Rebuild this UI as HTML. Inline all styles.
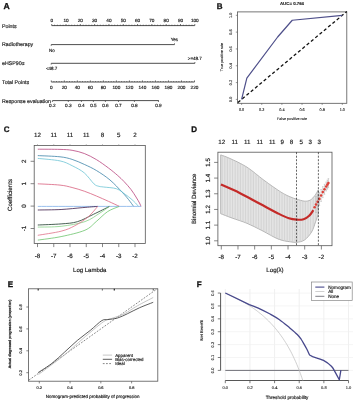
<!DOCTYPE html>
<html><head><meta charset="utf-8"><style>
html,body{margin:0;padding:0;background:#fff;}
svg{display:block;will-change:transform;}
text{font-family:"Liberation Sans",sans-serif;text-rendering:geometricPrecision;}
</style></head><body>
<svg width="354" height="400" viewBox="0 0 354 400">
<rect width="354" height="400" fill="#fff"/>
<text x="3.6" y="9.4" font-size="8.6" text-anchor="start" font-weight="bold" fill="#111" stroke="#111" stroke-width="0.3" >A</text>
<text x="2" y="27.8" font-size="5.25" text-anchor="start" font-weight="normal" fill="#1a1a1a" stroke="#1a1a1a" stroke-width="0.16" >Points</text>
<text x="2" y="46.1" font-size="5.25" text-anchor="start" font-weight="normal" fill="#1a1a1a" stroke="#1a1a1a" stroke-width="0.16" >Radiotherapy</text>
<text x="2" y="64.8" font-size="5.25" text-anchor="start" font-weight="normal" fill="#1a1a1a" stroke="#1a1a1a" stroke-width="0.16" >eHSP90α</text>
<text x="2" y="84.4" font-size="5.25" text-anchor="start" font-weight="normal" fill="#1a1a1a" stroke="#1a1a1a" stroke-width="0.16" >Total Points</text>
<text x="2" y="103.1" font-size="5.25" text-anchor="start" font-weight="normal" fill="#1a1a1a" stroke="#1a1a1a" stroke-width="0.16" >Response evaluation</text>
<line x1="51.7" y1="25.6" x2="194.8" y2="25.6" stroke="#3a3a3a" stroke-width="0.9" />
<line x1="51.7" y1="25.6" x2="51.7" y2="24" stroke="#3a3a3a" stroke-width="0.7" />
<line x1="54.56" y1="25.6" x2="54.56" y2="24.7" stroke="#3a3a3a" stroke-width="0.7" />
<line x1="57.42" y1="25.6" x2="57.42" y2="24.7" stroke="#3a3a3a" stroke-width="0.7" />
<line x1="60.29" y1="25.6" x2="60.29" y2="24.7" stroke="#3a3a3a" stroke-width="0.7" />
<line x1="63.15" y1="25.6" x2="63.15" y2="24.7" stroke="#3a3a3a" stroke-width="0.7" />
<line x1="66.01" y1="25.6" x2="66.01" y2="24" stroke="#3a3a3a" stroke-width="0.7" />
<line x1="68.87" y1="25.6" x2="68.87" y2="24.7" stroke="#3a3a3a" stroke-width="0.7" />
<line x1="71.73" y1="25.6" x2="71.73" y2="24.7" stroke="#3a3a3a" stroke-width="0.7" />
<line x1="74.6" y1="25.6" x2="74.6" y2="24.7" stroke="#3a3a3a" stroke-width="0.7" />
<line x1="77.46" y1="25.6" x2="77.46" y2="24.7" stroke="#3a3a3a" stroke-width="0.7" />
<line x1="80.32" y1="25.6" x2="80.32" y2="24" stroke="#3a3a3a" stroke-width="0.7" />
<line x1="83.18" y1="25.6" x2="83.18" y2="24.7" stroke="#3a3a3a" stroke-width="0.7" />
<line x1="86.04" y1="25.6" x2="86.04" y2="24.7" stroke="#3a3a3a" stroke-width="0.7" />
<line x1="88.91" y1="25.6" x2="88.91" y2="24.7" stroke="#3a3a3a" stroke-width="0.7" />
<line x1="91.77" y1="25.6" x2="91.77" y2="24.7" stroke="#3a3a3a" stroke-width="0.7" />
<line x1="94.63" y1="25.6" x2="94.63" y2="24" stroke="#3a3a3a" stroke-width="0.7" />
<line x1="97.49" y1="25.6" x2="97.49" y2="24.7" stroke="#3a3a3a" stroke-width="0.7" />
<line x1="100.35" y1="25.6" x2="100.35" y2="24.7" stroke="#3a3a3a" stroke-width="0.7" />
<line x1="103.22" y1="25.6" x2="103.22" y2="24.7" stroke="#3a3a3a" stroke-width="0.7" />
<line x1="106.08" y1="25.6" x2="106.08" y2="24.7" stroke="#3a3a3a" stroke-width="0.7" />
<line x1="108.94" y1="25.6" x2="108.94" y2="24" stroke="#3a3a3a" stroke-width="0.7" />
<line x1="111.8" y1="25.6" x2="111.8" y2="24.7" stroke="#3a3a3a" stroke-width="0.7" />
<line x1="114.66" y1="25.6" x2="114.66" y2="24.7" stroke="#3a3a3a" stroke-width="0.7" />
<line x1="117.53" y1="25.6" x2="117.53" y2="24.7" stroke="#3a3a3a" stroke-width="0.7" />
<line x1="120.39" y1="25.6" x2="120.39" y2="24.7" stroke="#3a3a3a" stroke-width="0.7" />
<line x1="123.25" y1="25.6" x2="123.25" y2="24" stroke="#3a3a3a" stroke-width="0.7" />
<line x1="126.11" y1="25.6" x2="126.11" y2="24.7" stroke="#3a3a3a" stroke-width="0.7" />
<line x1="128.97" y1="25.6" x2="128.97" y2="24.7" stroke="#3a3a3a" stroke-width="0.7" />
<line x1="131.84" y1="25.6" x2="131.84" y2="24.7" stroke="#3a3a3a" stroke-width="0.7" />
<line x1="134.7" y1="25.6" x2="134.7" y2="24.7" stroke="#3a3a3a" stroke-width="0.7" />
<line x1="137.56" y1="25.6" x2="137.56" y2="24" stroke="#3a3a3a" stroke-width="0.7" />
<line x1="140.42" y1="25.6" x2="140.42" y2="24.7" stroke="#3a3a3a" stroke-width="0.7" />
<line x1="143.28" y1="25.6" x2="143.28" y2="24.7" stroke="#3a3a3a" stroke-width="0.7" />
<line x1="146.15" y1="25.6" x2="146.15" y2="24.7" stroke="#3a3a3a" stroke-width="0.7" />
<line x1="149.01" y1="25.6" x2="149.01" y2="24.7" stroke="#3a3a3a" stroke-width="0.7" />
<line x1="151.87" y1="25.6" x2="151.87" y2="24" stroke="#3a3a3a" stroke-width="0.7" />
<line x1="154.73" y1="25.6" x2="154.73" y2="24.7" stroke="#3a3a3a" stroke-width="0.7" />
<line x1="157.59" y1="25.6" x2="157.59" y2="24.7" stroke="#3a3a3a" stroke-width="0.7" />
<line x1="160.46" y1="25.6" x2="160.46" y2="24.7" stroke="#3a3a3a" stroke-width="0.7" />
<line x1="163.32" y1="25.6" x2="163.32" y2="24.7" stroke="#3a3a3a" stroke-width="0.7" />
<line x1="166.18" y1="25.6" x2="166.18" y2="24" stroke="#3a3a3a" stroke-width="0.7" />
<line x1="169.04" y1="25.6" x2="169.04" y2="24.7" stroke="#3a3a3a" stroke-width="0.7" />
<line x1="171.9" y1="25.6" x2="171.9" y2="24.7" stroke="#3a3a3a" stroke-width="0.7" />
<line x1="174.77" y1="25.6" x2="174.77" y2="24.7" stroke="#3a3a3a" stroke-width="0.7" />
<line x1="177.63" y1="25.6" x2="177.63" y2="24.7" stroke="#3a3a3a" stroke-width="0.7" />
<line x1="180.49" y1="25.6" x2="180.49" y2="24" stroke="#3a3a3a" stroke-width="0.7" />
<line x1="183.35" y1="25.6" x2="183.35" y2="24.7" stroke="#3a3a3a" stroke-width="0.7" />
<line x1="186.21" y1="25.6" x2="186.21" y2="24.7" stroke="#3a3a3a" stroke-width="0.7" />
<line x1="189.08" y1="25.6" x2="189.08" y2="24.7" stroke="#3a3a3a" stroke-width="0.7" />
<line x1="191.94" y1="25.6" x2="191.94" y2="24.7" stroke="#3a3a3a" stroke-width="0.7" />
<line x1="194.8" y1="25.6" x2="194.8" y2="24" stroke="#3a3a3a" stroke-width="0.7" />
<text x="51.7" y="22.35" font-size="4.7" text-anchor="middle" font-weight="normal" fill="#1a1a1a" stroke="#1a1a1a" stroke-width="0.16" >0</text>
<text x="66.01" y="22.35" font-size="4.7" text-anchor="middle" font-weight="normal" fill="#1a1a1a" stroke="#1a1a1a" stroke-width="0.16" >10</text>
<text x="80.32" y="22.35" font-size="4.7" text-anchor="middle" font-weight="normal" fill="#1a1a1a" stroke="#1a1a1a" stroke-width="0.16" >20</text>
<text x="94.63" y="22.35" font-size="4.7" text-anchor="middle" font-weight="normal" fill="#1a1a1a" stroke="#1a1a1a" stroke-width="0.16" >30</text>
<text x="108.94" y="22.35" font-size="4.7" text-anchor="middle" font-weight="normal" fill="#1a1a1a" stroke="#1a1a1a" stroke-width="0.16" >40</text>
<text x="123.25" y="22.35" font-size="4.7" text-anchor="middle" font-weight="normal" fill="#1a1a1a" stroke="#1a1a1a" stroke-width="0.16" >50</text>
<text x="137.56" y="22.35" font-size="4.7" text-anchor="middle" font-weight="normal" fill="#1a1a1a" stroke="#1a1a1a" stroke-width="0.16" >60</text>
<text x="151.87" y="22.35" font-size="4.7" text-anchor="middle" font-weight="normal" fill="#1a1a1a" stroke="#1a1a1a" stroke-width="0.16" >70</text>
<text x="166.18" y="22.35" font-size="4.7" text-anchor="middle" font-weight="normal" fill="#1a1a1a" stroke="#1a1a1a" stroke-width="0.16" >80</text>
<text x="180.49" y="22.35" font-size="4.7" text-anchor="middle" font-weight="normal" fill="#1a1a1a" stroke="#1a1a1a" stroke-width="0.16" >90</text>
<text x="194.8" y="22.35" font-size="4.7" text-anchor="middle" font-weight="normal" fill="#1a1a1a" stroke="#1a1a1a" stroke-width="0.16" >100</text>
<line x1="51.2" y1="44.6" x2="174.5" y2="44.6" stroke="#3a3a3a" stroke-width="0.9" />
<line x1="51.2" y1="44.6" x2="51.2" y2="45.9" stroke="#3a3a3a" stroke-width="0.7" />
<line x1="174.5" y1="44.6" x2="174.5" y2="43.3" stroke="#3a3a3a" stroke-width="0.7" />
<text x="49" y="51.5" font-size="4.5" text-anchor="start" font-weight="normal" fill="#1a1a1a" stroke="#1a1a1a" stroke-width="0.16" >No</text>
<text x="174.4" y="40.8" font-size="4.5" text-anchor="middle" font-weight="normal" fill="#1a1a1a" stroke="#1a1a1a" stroke-width="0.16" >Yes</text>
<line x1="51.2" y1="63.3" x2="194.9" y2="63.3" stroke="#3a3a3a" stroke-width="0.9" />
<line x1="51.2" y1="63.3" x2="51.2" y2="64.6" stroke="#3a3a3a" stroke-width="0.7" />
<line x1="194.9" y1="63.3" x2="194.9" y2="62" stroke="#3a3a3a" stroke-width="0.7" />
<text x="51.6" y="69.8" font-size="4.5" text-anchor="middle" font-weight="normal" fill="#1a1a1a" stroke="#1a1a1a" stroke-width="0.16" >&lt;48.7</text>
<text x="194.8" y="59.7" font-size="4.5" text-anchor="middle" font-weight="normal" fill="#1a1a1a" stroke="#1a1a1a" stroke-width="0.16" >&gt;=48.7</text>
<line x1="51.3" y1="82" x2="194.5" y2="82" stroke="#3a3a3a" stroke-width="0.9" />
<line x1="51.3" y1="82" x2="51.3" y2="80.4" stroke="#3a3a3a" stroke-width="0.7" />
<line x1="53.9" y1="82" x2="53.9" y2="81.1" stroke="#3a3a3a" stroke-width="0.7" />
<line x1="56.51" y1="82" x2="56.51" y2="81.1" stroke="#3a3a3a" stroke-width="0.7" />
<line x1="59.11" y1="82" x2="59.11" y2="81.1" stroke="#3a3a3a" stroke-width="0.7" />
<line x1="61.71" y1="82" x2="61.71" y2="81.1" stroke="#3a3a3a" stroke-width="0.7" />
<line x1="64.32" y1="82" x2="64.32" y2="80.4" stroke="#3a3a3a" stroke-width="0.7" />
<line x1="66.92" y1="82" x2="66.92" y2="81.1" stroke="#3a3a3a" stroke-width="0.7" />
<line x1="69.53" y1="82" x2="69.53" y2="81.1" stroke="#3a3a3a" stroke-width="0.7" />
<line x1="72.13" y1="82" x2="72.13" y2="81.1" stroke="#3a3a3a" stroke-width="0.7" />
<line x1="74.73" y1="82" x2="74.73" y2="81.1" stroke="#3a3a3a" stroke-width="0.7" />
<line x1="77.34" y1="82" x2="77.34" y2="80.4" stroke="#3a3a3a" stroke-width="0.7" />
<line x1="79.94" y1="82" x2="79.94" y2="81.1" stroke="#3a3a3a" stroke-width="0.7" />
<line x1="82.54" y1="82" x2="82.54" y2="81.1" stroke="#3a3a3a" stroke-width="0.7" />
<line x1="85.15" y1="82" x2="85.15" y2="81.1" stroke="#3a3a3a" stroke-width="0.7" />
<line x1="87.75" y1="82" x2="87.75" y2="81.1" stroke="#3a3a3a" stroke-width="0.7" />
<line x1="90.35" y1="82" x2="90.35" y2="80.4" stroke="#3a3a3a" stroke-width="0.7" />
<line x1="92.96" y1="82" x2="92.96" y2="81.1" stroke="#3a3a3a" stroke-width="0.7" />
<line x1="95.56" y1="82" x2="95.56" y2="81.1" stroke="#3a3a3a" stroke-width="0.7" />
<line x1="98.17" y1="82" x2="98.17" y2="81.1" stroke="#3a3a3a" stroke-width="0.7" />
<line x1="100.77" y1="82" x2="100.77" y2="81.1" stroke="#3a3a3a" stroke-width="0.7" />
<line x1="103.37" y1="82" x2="103.37" y2="80.4" stroke="#3a3a3a" stroke-width="0.7" />
<line x1="105.98" y1="82" x2="105.98" y2="81.1" stroke="#3a3a3a" stroke-width="0.7" />
<line x1="108.58" y1="82" x2="108.58" y2="81.1" stroke="#3a3a3a" stroke-width="0.7" />
<line x1="111.18" y1="82" x2="111.18" y2="81.1" stroke="#3a3a3a" stroke-width="0.7" />
<line x1="113.79" y1="82" x2="113.79" y2="81.1" stroke="#3a3a3a" stroke-width="0.7" />
<line x1="116.39" y1="82" x2="116.39" y2="80.4" stroke="#3a3a3a" stroke-width="0.7" />
<line x1="118.99" y1="82" x2="118.99" y2="81.1" stroke="#3a3a3a" stroke-width="0.7" />
<line x1="121.6" y1="82" x2="121.6" y2="81.1" stroke="#3a3a3a" stroke-width="0.7" />
<line x1="124.2" y1="82" x2="124.2" y2="81.1" stroke="#3a3a3a" stroke-width="0.7" />
<line x1="126.81" y1="82" x2="126.81" y2="81.1" stroke="#3a3a3a" stroke-width="0.7" />
<line x1="129.41" y1="82" x2="129.41" y2="80.4" stroke="#3a3a3a" stroke-width="0.7" />
<line x1="132.01" y1="82" x2="132.01" y2="81.1" stroke="#3a3a3a" stroke-width="0.7" />
<line x1="134.62" y1="82" x2="134.62" y2="81.1" stroke="#3a3a3a" stroke-width="0.7" />
<line x1="137.22" y1="82" x2="137.22" y2="81.1" stroke="#3a3a3a" stroke-width="0.7" />
<line x1="139.82" y1="82" x2="139.82" y2="81.1" stroke="#3a3a3a" stroke-width="0.7" />
<line x1="142.43" y1="82" x2="142.43" y2="80.4" stroke="#3a3a3a" stroke-width="0.7" />
<line x1="145.03" y1="82" x2="145.03" y2="81.1" stroke="#3a3a3a" stroke-width="0.7" />
<line x1="147.63" y1="82" x2="147.63" y2="81.1" stroke="#3a3a3a" stroke-width="0.7" />
<line x1="150.24" y1="82" x2="150.24" y2="81.1" stroke="#3a3a3a" stroke-width="0.7" />
<line x1="152.84" y1="82" x2="152.84" y2="81.1" stroke="#3a3a3a" stroke-width="0.7" />
<line x1="155.45" y1="82" x2="155.45" y2="80.4" stroke="#3a3a3a" stroke-width="0.7" />
<line x1="158.05" y1="82" x2="158.05" y2="81.1" stroke="#3a3a3a" stroke-width="0.7" />
<line x1="160.65" y1="82" x2="160.65" y2="81.1" stroke="#3a3a3a" stroke-width="0.7" />
<line x1="163.26" y1="82" x2="163.26" y2="81.1" stroke="#3a3a3a" stroke-width="0.7" />
<line x1="165.86" y1="82" x2="165.86" y2="81.1" stroke="#3a3a3a" stroke-width="0.7" />
<line x1="168.46" y1="82" x2="168.46" y2="80.4" stroke="#3a3a3a" stroke-width="0.7" />
<line x1="171.07" y1="82" x2="171.07" y2="81.1" stroke="#3a3a3a" stroke-width="0.7" />
<line x1="173.67" y1="82" x2="173.67" y2="81.1" stroke="#3a3a3a" stroke-width="0.7" />
<line x1="176.27" y1="82" x2="176.27" y2="81.1" stroke="#3a3a3a" stroke-width="0.7" />
<line x1="178.88" y1="82" x2="178.88" y2="81.1" stroke="#3a3a3a" stroke-width="0.7" />
<line x1="181.48" y1="82" x2="181.48" y2="80.4" stroke="#3a3a3a" stroke-width="0.7" />
<line x1="184.09" y1="82" x2="184.09" y2="81.1" stroke="#3a3a3a" stroke-width="0.7" />
<line x1="186.69" y1="82" x2="186.69" y2="81.1" stroke="#3a3a3a" stroke-width="0.7" />
<line x1="189.29" y1="82" x2="189.29" y2="81.1" stroke="#3a3a3a" stroke-width="0.7" />
<line x1="191.9" y1="82" x2="191.9" y2="81.1" stroke="#3a3a3a" stroke-width="0.7" />
<line x1="194.5" y1="82" x2="194.5" y2="80.4" stroke="#3a3a3a" stroke-width="0.7" />
<text x="51.3" y="89.35" font-size="4.7" text-anchor="middle" font-weight="normal" fill="#1a1a1a" stroke="#1a1a1a" stroke-width="0.16" >0</text>
<text x="64.32" y="89.35" font-size="4.7" text-anchor="middle" font-weight="normal" fill="#1a1a1a" stroke="#1a1a1a" stroke-width="0.16" >20</text>
<text x="77.34" y="89.35" font-size="4.7" text-anchor="middle" font-weight="normal" fill="#1a1a1a" stroke="#1a1a1a" stroke-width="0.16" >40</text>
<text x="90.35" y="89.35" font-size="4.7" text-anchor="middle" font-weight="normal" fill="#1a1a1a" stroke="#1a1a1a" stroke-width="0.16" >60</text>
<text x="103.37" y="89.35" font-size="4.7" text-anchor="middle" font-weight="normal" fill="#1a1a1a" stroke="#1a1a1a" stroke-width="0.16" >80</text>
<text x="116.39" y="89.35" font-size="4.7" text-anchor="middle" font-weight="normal" fill="#1a1a1a" stroke="#1a1a1a" stroke-width="0.16" >100</text>
<text x="129.41" y="89.35" font-size="4.7" text-anchor="middle" font-weight="normal" fill="#1a1a1a" stroke="#1a1a1a" stroke-width="0.16" >120</text>
<text x="142.43" y="89.35" font-size="4.7" text-anchor="middle" font-weight="normal" fill="#1a1a1a" stroke="#1a1a1a" stroke-width="0.16" >140</text>
<text x="155.45" y="89.35" font-size="4.7" text-anchor="middle" font-weight="normal" fill="#1a1a1a" stroke="#1a1a1a" stroke-width="0.16" >160</text>
<text x="168.46" y="89.35" font-size="4.7" text-anchor="middle" font-weight="normal" fill="#1a1a1a" stroke="#1a1a1a" stroke-width="0.16" >180</text>
<text x="181.48" y="89.35" font-size="4.7" text-anchor="middle" font-weight="normal" fill="#1a1a1a" stroke="#1a1a1a" stroke-width="0.16" >200</text>
<text x="194.5" y="89.35" font-size="4.7" text-anchor="middle" font-weight="normal" fill="#1a1a1a" stroke="#1a1a1a" stroke-width="0.16" >220</text>
<line x1="52.4" y1="100.6" x2="158.8" y2="100.6" stroke="#3a3a3a" stroke-width="0.9" />
<line x1="52.37" y1="100.6" x2="52.37" y2="102" stroke="#3a3a3a" stroke-width="0.7" />
<text x="52.37" y="107.35" font-size="4.7" text-anchor="middle" font-weight="normal" fill="#1a1a1a" stroke="#1a1a1a" stroke-width="0.16" >0.2</text>
<line x1="68.32" y1="100.6" x2="68.32" y2="102" stroke="#3a3a3a" stroke-width="0.7" />
<text x="68.32" y="107.35" font-size="4.7" text-anchor="middle" font-weight="normal" fill="#1a1a1a" stroke="#1a1a1a" stroke-width="0.16" >0.3</text>
<line x1="81.4" y1="100.6" x2="81.4" y2="102" stroke="#3a3a3a" stroke-width="0.7" />
<text x="81.4" y="107.35" font-size="4.7" text-anchor="middle" font-weight="normal" fill="#1a1a1a" stroke="#1a1a1a" stroke-width="0.16" >0.4</text>
<line x1="93.4" y1="100.6" x2="93.4" y2="102" stroke="#3a3a3a" stroke-width="0.7" />
<text x="93.4" y="107.35" font-size="4.7" text-anchor="middle" font-weight="normal" fill="#1a1a1a" stroke="#1a1a1a" stroke-width="0.16" >0.5</text>
<line x1="105.4" y1="100.6" x2="105.4" y2="102" stroke="#3a3a3a" stroke-width="0.7" />
<text x="105.4" y="107.35" font-size="4.7" text-anchor="middle" font-weight="normal" fill="#1a1a1a" stroke="#1a1a1a" stroke-width="0.16" >0.6</text>
<line x1="118.48" y1="100.6" x2="118.48" y2="102" stroke="#3a3a3a" stroke-width="0.7" />
<text x="118.48" y="107.35" font-size="4.7" text-anchor="middle" font-weight="normal" fill="#1a1a1a" stroke="#1a1a1a" stroke-width="0.16" >0.7</text>
<line x1="134.43" y1="100.6" x2="134.43" y2="102" stroke="#3a3a3a" stroke-width="0.7" />
<text x="134.43" y="107.35" font-size="4.7" text-anchor="middle" font-weight="normal" fill="#1a1a1a" stroke="#1a1a1a" stroke-width="0.16" >0.8</text>
<line x1="158.44" y1="100.6" x2="158.44" y2="102" stroke="#3a3a3a" stroke-width="0.7" />
<text x="158.44" y="107.35" font-size="4.7" text-anchor="middle" font-weight="normal" fill="#1a1a1a" stroke="#1a1a1a" stroke-width="0.16" >0.9</text>
<text x="216.7" y="9" font-size="8" text-anchor="start" font-weight="bold" fill="#111" stroke="#111" stroke-width="0.3" >B</text>
<text x="292" y="4.6" font-size="4.35" text-anchor="middle" font-weight="bold" fill="#222" stroke="#222" stroke-width="0.12" >AUC= 0.764</text>
<rect x="237.4" y="11.9" width="109.4" height="91.4" fill="none" stroke="#555" stroke-width="0.8"/>
<line x1="241.6" y1="103.3" x2="241.6" y2="104.9" stroke="#555" stroke-width="0.6" />
<text x="241.6" y="111.4" font-size="3.8" text-anchor="middle" font-weight="normal" fill="#1a1a1a" stroke="#1a1a1a" stroke-width="0.1" >0.0</text>
<line x1="237.4" y1="99.4" x2="235.8" y2="99.4" stroke="#555" stroke-width="0.6" />
<text x="231" y="99.4" font-size="3.8" text-anchor="middle" font-weight="normal" fill="#1a1a1a" stroke="#1a1a1a" stroke-width="0.1" transform="rotate(-90 231 99.4)" dy="1.4">0.0</text>
<line x1="261.74" y1="103.3" x2="261.74" y2="104.9" stroke="#555" stroke-width="0.6" />
<text x="261.74" y="111.4" font-size="3.8" text-anchor="middle" font-weight="normal" fill="#1a1a1a" stroke="#1a1a1a" stroke-width="0.1" >0.2</text>
<line x1="237.4" y1="82.58" x2="235.8" y2="82.58" stroke="#555" stroke-width="0.6" />
<text x="231" y="82.58" font-size="3.8" text-anchor="middle" font-weight="normal" fill="#1a1a1a" stroke="#1a1a1a" stroke-width="0.1" transform="rotate(-90 231 82.58)" dy="1.4">0.2</text>
<line x1="281.88" y1="103.3" x2="281.88" y2="104.9" stroke="#555" stroke-width="0.6" />
<text x="281.88" y="111.4" font-size="3.8" text-anchor="middle" font-weight="normal" fill="#1a1a1a" stroke="#1a1a1a" stroke-width="0.1" >0.4</text>
<line x1="237.4" y1="65.76" x2="235.8" y2="65.76" stroke="#555" stroke-width="0.6" />
<text x="231" y="65.76" font-size="3.8" text-anchor="middle" font-weight="normal" fill="#1a1a1a" stroke="#1a1a1a" stroke-width="0.1" transform="rotate(-90 231 65.76)" dy="1.4">0.4</text>
<line x1="302.02" y1="103.3" x2="302.02" y2="104.9" stroke="#555" stroke-width="0.6" />
<text x="302.02" y="111.4" font-size="3.8" text-anchor="middle" font-weight="normal" fill="#1a1a1a" stroke="#1a1a1a" stroke-width="0.1" >0.6</text>
<line x1="237.4" y1="48.94" x2="235.8" y2="48.94" stroke="#555" stroke-width="0.6" />
<text x="231" y="48.94" font-size="3.8" text-anchor="middle" font-weight="normal" fill="#1a1a1a" stroke="#1a1a1a" stroke-width="0.1" transform="rotate(-90 231 48.94)" dy="1.4">0.6</text>
<line x1="322.16" y1="103.3" x2="322.16" y2="104.9" stroke="#555" stroke-width="0.6" />
<text x="322.16" y="111.4" font-size="3.8" text-anchor="middle" font-weight="normal" fill="#1a1a1a" stroke="#1a1a1a" stroke-width="0.1" >0.8</text>
<line x1="237.4" y1="32.12" x2="235.8" y2="32.12" stroke="#555" stroke-width="0.6" />
<text x="231" y="32.12" font-size="3.8" text-anchor="middle" font-weight="normal" fill="#1a1a1a" stroke="#1a1a1a" stroke-width="0.1" transform="rotate(-90 231 32.12)" dy="1.4">0.8</text>
<line x1="342.3" y1="103.3" x2="342.3" y2="104.9" stroke="#555" stroke-width="0.6" />
<text x="342.3" y="111.4" font-size="3.8" text-anchor="middle" font-weight="normal" fill="#1a1a1a" stroke="#1a1a1a" stroke-width="0.1" >1.0</text>
<line x1="237.4" y1="15.3" x2="235.8" y2="15.3" stroke="#555" stroke-width="0.6" />
<text x="231" y="15.3" font-size="3.8" text-anchor="middle" font-weight="normal" fill="#1a1a1a" stroke="#1a1a1a" stroke-width="0.1" transform="rotate(-90 231 15.3)" dy="1.4">1.0</text>
<text x="292" y="120.1" font-size="3.7" text-anchor="middle" font-weight="normal" fill="#1a1a1a" stroke="#1a1a1a" stroke-width="0.1" >False positive rate</text>
<text x="221.8" y="57" font-size="3.7" text-anchor="middle" font-weight="normal" fill="#1a1a1a" stroke="#1a1a1a" stroke-width="0.1" transform="rotate(-90 221.8 57)" dy="1.3">True positive rate</text>
<path d="M237.9 102.49 L346.8 11.54" stroke="#111" stroke-width="1.3" fill="none" stroke-dasharray="3.2 2.4"/>
<path d="M241.6 99.4 L246.84 78.21 L277.65 37 L292.25 20.26 L342.3 15.3" stroke="#4e4f8a" stroke-width="1.2" fill="none" stroke-linejoin="round"/>
<text x="3.8" y="132.3" font-size="8" text-anchor="start" font-weight="bold" fill="#111" stroke="#111" stroke-width="0.3" >C</text>
<rect x="34.2" y="145.5" width="111.1" height="98" fill="none" stroke="#555" stroke-width="0.8"/>
<line x1="37.5" y1="243.5" x2="37.5" y2="247.1" stroke="#555" stroke-width="0.7" />
<text x="37.5" y="257.6" font-size="6.2" text-anchor="middle" font-weight="normal" fill="#1a1a1a" stroke="#1a1a1a" stroke-width="0.16" >-8</text>
<line x1="37.5" y1="145.5" x2="37.5" y2="144.2" stroke="#888" stroke-width="0.6" />
<text x="37.5" y="136.8" font-size="6.2" text-anchor="middle" font-weight="normal" fill="#1a1a1a" stroke="#1a1a1a" stroke-width="0.16" >12</text>
<line x1="53.75" y1="243.5" x2="53.75" y2="247.1" stroke="#555" stroke-width="0.7" />
<text x="53.75" y="257.6" font-size="6.2" text-anchor="middle" font-weight="normal" fill="#1a1a1a" stroke="#1a1a1a" stroke-width="0.16" >-7</text>
<line x1="53.75" y1="145.5" x2="53.75" y2="144.2" stroke="#888" stroke-width="0.6" />
<text x="53.75" y="136.8" font-size="6.2" text-anchor="middle" font-weight="normal" fill="#1a1a1a" stroke="#1a1a1a" stroke-width="0.16" >11</text>
<line x1="70" y1="243.5" x2="70" y2="247.1" stroke="#555" stroke-width="0.7" />
<text x="70" y="257.6" font-size="6.2" text-anchor="middle" font-weight="normal" fill="#1a1a1a" stroke="#1a1a1a" stroke-width="0.16" >-6</text>
<line x1="70" y1="145.5" x2="70" y2="144.2" stroke="#888" stroke-width="0.6" />
<text x="70" y="136.8" font-size="6.2" text-anchor="middle" font-weight="normal" fill="#1a1a1a" stroke="#1a1a1a" stroke-width="0.16" >11</text>
<line x1="86.25" y1="243.5" x2="86.25" y2="247.1" stroke="#555" stroke-width="0.7" />
<text x="86.25" y="257.6" font-size="6.2" text-anchor="middle" font-weight="normal" fill="#1a1a1a" stroke="#1a1a1a" stroke-width="0.16" >-5</text>
<line x1="86.25" y1="145.5" x2="86.25" y2="144.2" stroke="#888" stroke-width="0.6" />
<text x="86.25" y="136.8" font-size="6.2" text-anchor="middle" font-weight="normal" fill="#1a1a1a" stroke="#1a1a1a" stroke-width="0.16" >11</text>
<line x1="102.5" y1="243.5" x2="102.5" y2="247.1" stroke="#555" stroke-width="0.7" />
<text x="102.5" y="257.6" font-size="6.2" text-anchor="middle" font-weight="normal" fill="#1a1a1a" stroke="#1a1a1a" stroke-width="0.16" >-4</text>
<line x1="102.5" y1="145.5" x2="102.5" y2="144.2" stroke="#888" stroke-width="0.6" />
<text x="102.5" y="136.8" font-size="6.2" text-anchor="middle" font-weight="normal" fill="#1a1a1a" stroke="#1a1a1a" stroke-width="0.16" >8</text>
<line x1="118.75" y1="243.5" x2="118.75" y2="247.1" stroke="#555" stroke-width="0.7" />
<text x="118.75" y="257.6" font-size="6.2" text-anchor="middle" font-weight="normal" fill="#1a1a1a" stroke="#1a1a1a" stroke-width="0.16" >-3</text>
<line x1="118.75" y1="145.5" x2="118.75" y2="144.2" stroke="#888" stroke-width="0.6" />
<text x="118.75" y="136.8" font-size="6.2" text-anchor="middle" font-weight="normal" fill="#1a1a1a" stroke="#1a1a1a" stroke-width="0.16" >5</text>
<line x1="135" y1="243.5" x2="135" y2="247.1" stroke="#555" stroke-width="0.7" />
<text x="135" y="257.6" font-size="6.2" text-anchor="middle" font-weight="normal" fill="#1a1a1a" stroke="#1a1a1a" stroke-width="0.16" >-2</text>
<line x1="135" y1="145.5" x2="135" y2="144.2" stroke="#888" stroke-width="0.6" />
<text x="135" y="136.8" font-size="6.2" text-anchor="middle" font-weight="normal" fill="#1a1a1a" stroke="#1a1a1a" stroke-width="0.16" >2</text>
<line x1="34.2" y1="228.5" x2="30.6" y2="228.5" stroke="#555" stroke-width="0.7" />
<text x="23.6" y="228.5" font-size="6.2" text-anchor="middle" font-weight="normal" fill="#1a1a1a" stroke="#1a1a1a" stroke-width="0.16" transform="rotate(-90 23.6 228.5)" dy="2.2">-1</text>
<line x1="34.2" y1="206.1" x2="30.6" y2="206.1" stroke="#555" stroke-width="0.7" />
<text x="23.6" y="206.1" font-size="6.2" text-anchor="middle" font-weight="normal" fill="#1a1a1a" stroke="#1a1a1a" stroke-width="0.16" transform="rotate(-90 23.6 206.1)" dy="2.2">0</text>
<line x1="34.2" y1="183.7" x2="30.6" y2="183.7" stroke="#555" stroke-width="0.7" />
<text x="23.6" y="183.7" font-size="6.2" text-anchor="middle" font-weight="normal" fill="#1a1a1a" stroke="#1a1a1a" stroke-width="0.16" transform="rotate(-90 23.6 183.7)" dy="2.2">1</text>
<line x1="34.2" y1="161.3" x2="30.6" y2="161.3" stroke="#555" stroke-width="0.7" />
<text x="23.6" y="161.3" font-size="6.2" text-anchor="middle" font-weight="normal" fill="#1a1a1a" stroke="#1a1a1a" stroke-width="0.16" transform="rotate(-90 23.6 161.3)" dy="2.2">2</text>
<text x="89.75" y="272" font-size="6.0" text-anchor="middle" font-weight="normal" fill="#1a1a1a" stroke="#1a1a1a" stroke-width="0.16" >Log Lambda</text>
<text x="10.1" y="195" font-size="6.15" text-anchor="middle" font-weight="normal" fill="#1a1a1a" stroke="#1a1a1a" stroke-width="0.16" transform="rotate(-90 10.1 195)" dy="2">Coefficients</text>
<path d="M37.8 149.2 C41.5 149.23 54.28 149.22 60 149.4 C65.72 149.58 68.05 149.62 72.1 150.3 C76.15 150.98 80.25 151.95 84.3 153.5 C88.35 155.05 92.35 157.17 96.4 159.6 C100.45 162.03 105.05 165.45 108.6 168.1 C112.15 170.75 115.13 173.27 117.7 175.5 C120.27 177.73 121.78 179.17 124 181.5 C126.22 183.83 129 186.92 131 189.5 C133 192.08 134.58 194.75 136 197 C137.42 199.25 138.67 201.43 139.5 203 C140.33 204.57 140.75 205.83 141 206.4" stroke="#b8447e" stroke-width="0.8" fill="none" />
<path d="M37.8 155.6 C41.5 155.8 54.28 156.17 60 156.8 C65.72 157.43 68.05 158.13 72.1 159.4 C76.15 160.67 80.25 162.55 84.3 164.4 C88.35 166.25 92.12 167.9 96.4 170.5 C100.68 173.1 105.73 176.42 110 180 C114.27 183.58 118.92 188.75 122 192 C125.08 195.25 126.57 197.1 128.5 199.5 C130.43 201.9 132.75 205.25 133.6 206.4" stroke="#3e84a8" stroke-width="0.8" fill="none" />
<path d="M37.8 158.4 C41.5 158.82 54.28 159.68 60 160.9 C65.72 162.12 68.05 163.7 72.1 165.7 C76.15 167.7 80.65 169.87 84.3 172.9 C87.95 175.93 91.57 181.67 94 183.9 C96.43 186.13 97.3 185.78 98.9 186.3 C100.5 186.82 100.65 186.58 103.6 187 C106.55 187.42 112.98 187.57 116.6 188.8 C120.22 190.03 122.9 192.73 125.3 194.4 C127.7 196.07 129.3 197.37 131 198.8 C132.7 200.23 134.27 201.73 135.5 203 C136.73 204.27 137.92 205.83 138.4 206.4" stroke="#6cc4d4" stroke-width="0.8" fill="none" />
<path d="M37.8 183.8 C41.5 184.02 54.28 184.48 60 185.1 C65.72 185.72 68.05 186.48 72.1 187.5 C76.15 188.52 80.25 189.78 84.3 191.2 C88.35 192.62 92.35 194.3 96.4 196 C100.45 197.7 104.75 199.67 108.6 201.4 C112.45 203.13 117.68 205.57 119.5 206.4" stroke="#d8607e" stroke-width="0.8" fill="none" />
<path d="M37.8 206.4 C55 206.4 123.8 206.4 141 206.4" stroke="#80b0e8" stroke-width="0.8" fill="none" />
<path d="M37.8 210 C41.68 209.92 53.6 209.9 61.1 209.5 C68.6 209.1 76.7 208.12 82.8 207.6 C88.9 207.08 95.22 206.6 97.7 206.4" stroke="#3c1c48" stroke-width="0.8" fill="none" />
<path d="M37.8 225 C41.68 224.82 54.5 224.45 61.1 223.9 C67.7 223.35 71.97 223.32 77.4 221.7 C82.83 220.08 88.38 216.73 93.7 214.2 C99.02 211.67 106.7 207.78 109.3 206.5" stroke="#1c3a2a" stroke-width="0.8" fill="none" />
<path d="M37.8 227.1 C41.68 226.97 53.23 227.22 61.1 226.3 C68.97 225.38 78.52 223.82 85 221.6 C91.48 219.38 95.95 215.5 100 213 C104.05 210.5 107.75 207.67 109.3 206.6" stroke="#88d088" stroke-width="0.8" fill="none" />
<path d="M37.8 235.3 C41.68 234.62 54.95 232.78 61.1 231.2 C67.25 229.62 70.18 228.2 74.7 225.8 C79.22 223.4 84.37 220.03 88.2 216.8 C92.03 213.57 96.12 208.13 97.7 206.4" stroke="#e07088" stroke-width="0.8" fill="none" />
<path d="M37.8 240.1 C41.68 239.52 53.23 238.25 61.1 236.6 C68.97 234.95 79.13 232.72 85 230.2 C90.87 227.68 92.53 224.6 96.3 221.5 C100.07 218.4 103.82 214.1 107.6 211.6 C111.38 209.1 117.1 207.35 119 206.5" stroke="#6cc46c" stroke-width="0.8" fill="none" />
<text x="191.3" y="132" font-size="8" text-anchor="start" font-weight="bold" fill="#111" stroke="#111" stroke-width="0.3" >D</text>
<path d="M220.7 154.9 C222.25 155.5 225.62 156.45 230 158.5 C234.38 160.55 241.35 163.58 247 167.2 C252.65 170.82 258.27 176.07 263.9 180.2 C269.53 184.33 276.45 189.23 280.8 192 C285.15 194.77 287.33 195.6 290 196.8 C292.67 198 294.35 198.47 296.8 199.2 C299.25 199.93 302.43 201.07 304.7 201.2 C306.97 201.33 308.7 200.95 310.4 200 C312.1 199.05 313.58 197.18 314.9 195.5 C316.22 193.82 317.73 190.83 318.3 189.9 L318.3 214 C317.83 215.33 316.62 219 315.5 222 C314.38 225 313.43 229 311.6 232 C309.77 235 306.97 238.27 304.5 240 C302.03 241.73 298.68 242.03 296.8 242.4 C294.92 242.77 296.15 242.7 293.2 242.2 C290.25 241.7 284.32 241.35 279.1 239.4 C273.88 237.45 267.25 233.18 261.9 230.5 C256.55 227.82 251.98 225.38 247 223.3 C242.02 221.22 236.38 219.6 232 218 C227.62 216.4 222.58 214.42 220.7 213.7 Z" stroke="#a4a4a4" stroke-width="0.8" fill="#e4e4e4" />
<clipPath id="bandclip"><path d="M220.7 154.9 C222.25 155.5 225.62 156.45 230 158.5 C234.38 160.55 241.35 163.58 247 167.2 C252.65 170.82 258.27 176.07 263.9 180.2 C269.53 184.33 276.45 189.23 280.8 192 C285.15 194.77 287.33 195.6 290 196.8 C292.67 198 294.35 198.47 296.8 199.2 C299.25 199.93 302.43 201.07 304.7 201.2 C306.97 201.33 308.7 200.95 310.4 200 C312.1 199.05 313.58 197.18 314.9 195.5 C316.22 193.82 317.73 190.83 318.3 189.9 L318.3 214 C317.83 215.33 316.62 219 315.5 222 C314.38 225 313.43 229 311.6 232 C309.77 235 306.97 238.27 304.5 240 C302.03 241.73 298.68 242.03 296.8 242.4 C294.92 242.77 296.15 242.7 293.2 242.2 C290.25 241.7 284.32 241.35 279.1 239.4 C273.88 237.45 267.25 233.18 261.9 230.5 C256.55 227.82 251.98 225.38 247 223.3 C242.02 221.22 236.38 219.6 232 218 C227.62 216.4 222.58 214.42 220.7 213.7 Z"/></clipPath>
<path d="M222.2 150 V250 M224.8 150 V250 M227.4 150 V250 M230 150 V250 M232.6 150 V250 M235.2 150 V250 M237.8 150 V250 M240.4 150 V250 M243 150 V250 M245.6 150 V250 M248.2 150 V250 M250.8 150 V250 M253.4 150 V250 M256 150 V250 M258.6 150 V250 M261.2 150 V250 M263.8 150 V250 M266.4 150 V250 M269 150 V250 M271.6 150 V250 M274.2 150 V250 M276.8 150 V250 M279.4 150 V250 M282 150 V250 M284.6 150 V250 M287.2 150 V250 M289.8 150 V250 M292.4 150 V250 M295 150 V250 M297.6 150 V250 M300.2 150 V250 M302.8 150 V250 M305.4 150 V250 M308 150 V250 M310.6 150 V250 M313.2 150 V250 M315.8 150 V250 M318.4 150 V250 M321 150 V250 M323.6 150 V250 " stroke="#cecece" stroke-width="0.8" clip-path="url(#bandclip)"/>
<line x1="316" y1="196.5" x2="316" y2="212.5" stroke="#b4b4b4" stroke-width="0.6" />
<line x1="315.2" y1="196.5" x2="316.8" y2="196.5" stroke="#b4b4b4" stroke-width="0.5" />
<line x1="315.2" y1="212.5" x2="316.8" y2="212.5" stroke="#b4b4b4" stroke-width="0.5" />
<line x1="317.7" y1="194.7" x2="317.7" y2="208.7" stroke="#b4b4b4" stroke-width="0.6" />
<line x1="316.9" y1="194.7" x2="318.5" y2="194.7" stroke="#b4b4b4" stroke-width="0.5" />
<line x1="316.9" y1="208.7" x2="318.5" y2="208.7" stroke="#b4b4b4" stroke-width="0.5" />
<line x1="319.4" y1="192.4" x2="319.4" y2="205.4" stroke="#b4b4b4" stroke-width="0.6" />
<line x1="318.6" y1="192.4" x2="320.2" y2="192.4" stroke="#b4b4b4" stroke-width="0.5" />
<line x1="318.6" y1="205.4" x2="320.2" y2="205.4" stroke="#b4b4b4" stroke-width="0.5" />
<line x1="321.1" y1="189.5" x2="321.1" y2="201.5" stroke="#b4b4b4" stroke-width="0.6" />
<line x1="320.3" y1="189.5" x2="321.9" y2="189.5" stroke="#b4b4b4" stroke-width="0.5" />
<line x1="320.3" y1="201.5" x2="321.9" y2="201.5" stroke="#b4b4b4" stroke-width="0.5" />
<line x1="322.8" y1="186.6" x2="322.8" y2="197.6" stroke="#b4b4b4" stroke-width="0.6" />
<line x1="322" y1="186.6" x2="323.6" y2="186.6" stroke="#b4b4b4" stroke-width="0.5" />
<line x1="322" y1="197.6" x2="323.6" y2="197.6" stroke="#b4b4b4" stroke-width="0.5" />
<line x1="324.5" y1="184.3" x2="324.5" y2="194.3" stroke="#b4b4b4" stroke-width="0.6" />
<line x1="323.7" y1="184.3" x2="325.3" y2="184.3" stroke="#b4b4b4" stroke-width="0.5" />
<line x1="323.7" y1="194.3" x2="325.3" y2="194.3" stroke="#b4b4b4" stroke-width="0.5" />
<line x1="326.2" y1="182" x2="326.2" y2="191" stroke="#b4b4b4" stroke-width="0.6" />
<line x1="325.4" y1="182" x2="327" y2="182" stroke="#b4b4b4" stroke-width="0.5" />
<line x1="325.4" y1="191" x2="327" y2="191" stroke="#b4b4b4" stroke-width="0.5" />
<line x1="327.4" y1="180.1" x2="327.4" y2="189.1" stroke="#b4b4b4" stroke-width="0.6" />
<line x1="326.6" y1="180.1" x2="328.2" y2="180.1" stroke="#b4b4b4" stroke-width="0.5" />
<line x1="326.6" y1="189.1" x2="328.2" y2="189.1" stroke="#b4b4b4" stroke-width="0.5" />
<line x1="328.4" y1="178.6" x2="328.4" y2="187.6" stroke="#b4b4b4" stroke-width="0.6" />
<line x1="327.6" y1="178.6" x2="329.2" y2="178.6" stroke="#b4b4b4" stroke-width="0.5" />
<line x1="327.6" y1="187.6" x2="329.2" y2="187.6" stroke="#b4b4b4" stroke-width="0.5" />
<path d="M220.9 184.5 C224.02 185.9 233.58 189.95 239.6 192.9 C245.62 195.85 252.55 199.82 257 202.2 C261.45 204.58 262.87 205.37 266.3 207.2 C269.73 209.03 273.83 211.35 277.6 213.2 C281.37 215.05 285.7 217.22 288.9 218.3 C292.1 219.38 294.35 219.55 296.8 219.7 C299.25 219.85 301.53 219.85 303.6 219.2 C305.67 218.55 307.58 217.3 309.2 215.8 C310.82 214.3 312.62 211.13 313.3 210.2" stroke="#c42a28" stroke-width="2.2" fill="none" />
<circle cx="314.6" cy="207.3" r="1.3" fill="#dc4038"/>
<circle cx="316" cy="204.5" r="1.3" fill="#dc4038"/>
<circle cx="317.7" cy="201.7" r="1.3" fill="#dc4038"/>
<circle cx="319.4" cy="198.9" r="1.3" fill="#dc4038"/>
<circle cx="321.1" cy="195.5" r="1.3" fill="#dc4038"/>
<circle cx="322.8" cy="192.1" r="1.3" fill="#dc4038"/>
<circle cx="324.5" cy="189.3" r="1.3" fill="#dc4038"/>
<circle cx="326.2" cy="186.5" r="1.3" fill="#dc4038"/>
<circle cx="327.4" cy="184.6" r="1.3" fill="#dc4038"/>
<circle cx="328.4" cy="183.1" r="1.3" fill="#dc4038"/>
<rect x="217.9" y="152.2" width="114.1" height="93.5" fill="none" stroke="#555" stroke-width="0.8"/>
<line x1="296.5" y1="152.2" x2="296.5" y2="245.7" stroke="#222" stroke-width="0.7" stroke-dasharray="2 1.5"/>
<line x1="318.4" y1="152.2" x2="318.4" y2="245.7" stroke="#222" stroke-width="0.7" stroke-dasharray="2 1.5"/>
<line x1="221.3" y1="245.7" x2="221.3" y2="249.5" stroke="#555" stroke-width="0.7" />
<text x="221.3" y="259" font-size="6.2" text-anchor="middle" font-weight="normal" fill="#1a1a1a" stroke="#1a1a1a" stroke-width="0.16" >-8</text>
<line x1="237.98" y1="245.7" x2="237.98" y2="249.5" stroke="#555" stroke-width="0.7" />
<text x="237.98" y="259" font-size="6.2" text-anchor="middle" font-weight="normal" fill="#1a1a1a" stroke="#1a1a1a" stroke-width="0.16" >-7</text>
<line x1="254.66" y1="245.7" x2="254.66" y2="249.5" stroke="#555" stroke-width="0.7" />
<text x="254.66" y="259" font-size="6.2" text-anchor="middle" font-weight="normal" fill="#1a1a1a" stroke="#1a1a1a" stroke-width="0.16" >-6</text>
<line x1="271.34" y1="245.7" x2="271.34" y2="249.5" stroke="#555" stroke-width="0.7" />
<text x="271.34" y="259" font-size="6.2" text-anchor="middle" font-weight="normal" fill="#1a1a1a" stroke="#1a1a1a" stroke-width="0.16" >-5</text>
<line x1="288.02" y1="245.7" x2="288.02" y2="249.5" stroke="#555" stroke-width="0.7" />
<text x="288.02" y="259" font-size="6.2" text-anchor="middle" font-weight="normal" fill="#1a1a1a" stroke="#1a1a1a" stroke-width="0.16" >-4</text>
<line x1="304.7" y1="245.7" x2="304.7" y2="249.5" stroke="#555" stroke-width="0.7" />
<text x="304.7" y="259" font-size="6.2" text-anchor="middle" font-weight="normal" fill="#1a1a1a" stroke="#1a1a1a" stroke-width="0.16" >-3</text>
<line x1="321.38" y1="245.7" x2="321.38" y2="249.5" stroke="#555" stroke-width="0.7" />
<text x="321.38" y="259" font-size="6.2" text-anchor="middle" font-weight="normal" fill="#1a1a1a" stroke="#1a1a1a" stroke-width="0.16" >-2</text>
<line x1="217.9" y1="240.8" x2="214.1" y2="240.8" stroke="#555" stroke-width="0.7" />
<text x="208" y="240.8" font-size="6.2" text-anchor="middle" font-weight="normal" fill="#1a1a1a" stroke="#1a1a1a" stroke-width="0.16" transform="rotate(-90 208 240.8)" dy="2.2">1.0</text>
<line x1="217.9" y1="225.12" x2="214.1" y2="225.12" stroke="#555" stroke-width="0.7" />
<text x="208" y="225.12" font-size="6.2" text-anchor="middle" font-weight="normal" fill="#1a1a1a" stroke="#1a1a1a" stroke-width="0.16" transform="rotate(-90 208 225.12)" dy="2.2">1.1</text>
<line x1="217.9" y1="209.44" x2="214.1" y2="209.44" stroke="#555" stroke-width="0.7" />
<text x="208" y="209.44" font-size="6.2" text-anchor="middle" font-weight="normal" fill="#1a1a1a" stroke="#1a1a1a" stroke-width="0.16" transform="rotate(-90 208 209.44)" dy="2.2">1.2</text>
<line x1="217.9" y1="193.76" x2="214.1" y2="193.76" stroke="#555" stroke-width="0.7" />
<text x="208" y="193.76" font-size="6.2" text-anchor="middle" font-weight="normal" fill="#1a1a1a" stroke="#1a1a1a" stroke-width="0.16" transform="rotate(-90 208 193.76)" dy="2.2">1.3</text>
<line x1="217.9" y1="178.08" x2="214.1" y2="178.08" stroke="#555" stroke-width="0.7" />
<text x="208" y="178.08" font-size="6.2" text-anchor="middle" font-weight="normal" fill="#1a1a1a" stroke="#1a1a1a" stroke-width="0.16" transform="rotate(-90 208 178.08)" dy="2.2">1.4</text>
<line x1="217.9" y1="162.4" x2="214.1" y2="162.4" stroke="#555" stroke-width="0.7" />
<text x="208" y="162.4" font-size="6.2" text-anchor="middle" font-weight="normal" fill="#1a1a1a" stroke="#1a1a1a" stroke-width="0.16" transform="rotate(-90 208 162.4)" dy="2.2">1.5</text>
<text x="221.8" y="143.7" font-size="6.2" text-anchor="middle" font-weight="normal" fill="#1a1a1a" stroke="#1a1a1a" stroke-width="0.16" >12</text>
<text x="234.7" y="143.7" font-size="6.2" text-anchor="middle" font-weight="normal" fill="#1a1a1a" stroke="#1a1a1a" stroke-width="0.16" >11</text>
<text x="247.3" y="143.7" font-size="6.2" text-anchor="middle" font-weight="normal" fill="#1a1a1a" stroke="#1a1a1a" stroke-width="0.16" >11</text>
<text x="259.7" y="143.7" font-size="6.2" text-anchor="middle" font-weight="normal" fill="#1a1a1a" stroke="#1a1a1a" stroke-width="0.16" >11</text>
<text x="272.2" y="143.7" font-size="6.2" text-anchor="middle" font-weight="normal" fill="#1a1a1a" stroke="#1a1a1a" stroke-width="0.16" >11</text>
<text x="282.3" y="143.7" font-size="6.2" text-anchor="middle" font-weight="normal" fill="#1a1a1a" stroke="#1a1a1a" stroke-width="0.16" >9</text>
<text x="291.6" y="143.7" font-size="6.2" text-anchor="middle" font-weight="normal" fill="#1a1a1a" stroke="#1a1a1a" stroke-width="0.16" >8</text>
<text x="301.2" y="143.7" font-size="6.2" text-anchor="middle" font-weight="normal" fill="#1a1a1a" stroke="#1a1a1a" stroke-width="0.16" >5</text>
<text x="310.3" y="143.7" font-size="6.2" text-anchor="middle" font-weight="normal" fill="#1a1a1a" stroke="#1a1a1a" stroke-width="0.16" >3</text>
<text x="319.3" y="143.7" font-size="6.2" text-anchor="middle" font-weight="normal" fill="#1a1a1a" stroke="#1a1a1a" stroke-width="0.16" >3</text>
<text x="275" y="271.5" font-size="6.1" text-anchor="middle" font-weight="normal" fill="#1a1a1a" stroke="#1a1a1a" stroke-width="0.16" >Log(λ)</text>
<text x="193.75" y="198.75" font-size="6.1" text-anchor="middle" font-weight="normal" fill="#1a1a1a" stroke="#1a1a1a" stroke-width="0.16" transform="rotate(-90 193.75 198.75)" dy="2">Binomial Deviance</text>
<text x="7.8" y="287" font-size="8" text-anchor="start" font-weight="bold" fill="#111" stroke="#111" stroke-width="0.3" >E</text>
<rect x="28.5" y="288.8" width="129.3" height="92.4" fill="none" stroke="#555" stroke-width="0.8"/>
<line x1="39.3" y1="381.2" x2="39.3" y2="383.4" stroke="#555" stroke-width="0.7" />
<text x="39.3" y="389" font-size="3.9" text-anchor="middle" font-weight="normal" fill="#1a1a1a" stroke="#1a1a1a" stroke-width="0.16" >0.2</text>
<line x1="28.5" y1="372.7" x2="26.3" y2="372.7" stroke="#555" stroke-width="0.7" />
<text x="20.6" y="372.7" font-size="3.9" text-anchor="middle" font-weight="normal" fill="#1a1a1a" stroke="#1a1a1a" stroke-width="0.16" transform="rotate(-90 20.6 372.7)" dy="1.4">0.2</text>
<line x1="70.07" y1="381.2" x2="70.07" y2="383.4" stroke="#555" stroke-width="0.7" />
<text x="70.07" y="389" font-size="3.9" text-anchor="middle" font-weight="normal" fill="#1a1a1a" stroke="#1a1a1a" stroke-width="0.16" >0.4</text>
<line x1="28.5" y1="350.8" x2="26.3" y2="350.8" stroke="#555" stroke-width="0.7" />
<text x="20.6" y="350.8" font-size="3.9" text-anchor="middle" font-weight="normal" fill="#1a1a1a" stroke="#1a1a1a" stroke-width="0.16" transform="rotate(-90 20.6 350.8)" dy="1.4">0.4</text>
<line x1="100.84" y1="381.2" x2="100.84" y2="383.4" stroke="#555" stroke-width="0.7" />
<text x="100.84" y="389" font-size="3.9" text-anchor="middle" font-weight="normal" fill="#1a1a1a" stroke="#1a1a1a" stroke-width="0.16" >0.6</text>
<line x1="28.5" y1="328.9" x2="26.3" y2="328.9" stroke="#555" stroke-width="0.7" />
<text x="20.6" y="328.9" font-size="3.9" text-anchor="middle" font-weight="normal" fill="#1a1a1a" stroke="#1a1a1a" stroke-width="0.16" transform="rotate(-90 20.6 328.9)" dy="1.4">0.6</text>
<line x1="131.61" y1="381.2" x2="131.61" y2="383.4" stroke="#555" stroke-width="0.7" />
<text x="131.61" y="389" font-size="3.9" text-anchor="middle" font-weight="normal" fill="#1a1a1a" stroke="#1a1a1a" stroke-width="0.16" >0.8</text>
<line x1="28.5" y1="307" x2="26.3" y2="307" stroke="#555" stroke-width="0.7" />
<text x="20.6" y="307" font-size="3.9" text-anchor="middle" font-weight="normal" fill="#1a1a1a" stroke="#1a1a1a" stroke-width="0.16" transform="rotate(-90 20.6 307)" dy="1.4">0.8</text>
<text x="92.6" y="398.1" font-size="4.5" text-anchor="middle" font-weight="normal" fill="#1a1a1a" stroke="#1a1a1a" stroke-width="0.16" >Nomogram-predicted probability of progression</text>
<text x="9.7" y="333.8" font-size="3.7" text-anchor="middle" font-weight="normal" fill="#1a1a1a" stroke="#1a1a1a" stroke-width="0.24" transform="rotate(-90 9.7 333.8)" dy="1.3">Actual diagnosed progression (proportion)</text>
<path d="M29 380.03 L157.3 288.72" stroke="#555" stroke-width="0.7" fill="none" stroke-dasharray="1.8 1.4"/>
<path d="M38.5 374.5 C40.42 373.08 45.63 369.28 50 366 C54.37 362.72 59.18 359.38 64.7 354.8 C70.22 350.22 76.65 344 83.1 338.5 C89.55 333 98.48 325.2 103.4 321.8 C108.32 318.4 109.17 319.4 112.6 318.1 C116.03 316.8 119.87 316.05 124 314 C128.13 311.95 132.53 308.55 137.4 305.8 C142.27 303.05 150.57 298.88 153.2 297.5" stroke="#b8b8b8" stroke-width="0.8" fill="none" />
<path d="M38.1 372.6 C40.4 371.07 47.47 366.83 51.9 363.4 C56.33 359.97 60.43 355.85 64.7 352 C68.97 348.15 73.22 343.92 77.5 340.3 C81.78 336.68 86.35 333.58 90.4 330.3 C94.45 327.02 98.9 322.38 101.8 320.6 C104.7 318.82 105.17 320.03 107.8 319.6 C110.43 319.17 114.32 318.98 117.6 318 C120.88 317.02 123.87 315.4 127.5 313.7 C131.13 312 135.12 309.7 139.4 307.8 C143.68 305.9 150.9 303.22 153.2 302.3" stroke="#333" stroke-width="0.8" fill="none" />
<line x1="38.2" y1="288.8" x2="38.2" y2="290.4" stroke="#333" stroke-width="1.2" />
<line x1="102.4" y1="288.8" x2="102.4" y2="290.4" stroke="#777" stroke-width="1.2" />
<line x1="114.3" y1="288.8" x2="114.3" y2="290.4" stroke="#222" stroke-width="1.2" />
<line x1="153.3" y1="288.8" x2="153.3" y2="290.4" stroke="#666" stroke-width="1.2" />
<line x1="102.8" y1="355.1" x2="112.1" y2="355.1" stroke="#b8b8b8" stroke-width="0.8" />
<line x1="102.8" y1="359.3" x2="112.1" y2="359.3" stroke="#333" stroke-width="0.8" />
<line x1="102.8" y1="363.6" x2="112.1" y2="363.6" stroke="#555" stroke-width="0.7" stroke-dasharray="1.8 1.4"/>
<text x="115.2" y="356.5" font-size="4.4" text-anchor="start" font-weight="normal" fill="#1a1a1a" stroke="#1a1a1a" stroke-width="0.16" >Apparent</text>
<text x="115.2" y="360.7" font-size="4.4" text-anchor="start" font-weight="normal" fill="#1a1a1a" stroke="#1a1a1a" stroke-width="0.16" >Bias-corrected</text>
<text x="115.2" y="365" font-size="4.4" text-anchor="start" font-weight="normal" fill="#1a1a1a" stroke="#1a1a1a" stroke-width="0.16" >Ideal</text>
<text x="196.7" y="287" font-size="8" text-anchor="start" font-weight="bold" fill="#111" stroke="#111" stroke-width="0.3" >F</text>
<line x1="225.3" y1="289" x2="225.3" y2="380" stroke="#ececec" stroke-width="0.8" />
<line x1="249.94" y1="289" x2="249.94" y2="380" stroke="#ececec" stroke-width="0.8" />
<line x1="274.58" y1="289" x2="274.58" y2="380" stroke="#ececec" stroke-width="0.8" />
<line x1="299.22" y1="289" x2="299.22" y2="380" stroke="#ececec" stroke-width="0.8" />
<line x1="323.86" y1="289" x2="323.86" y2="380" stroke="#ececec" stroke-width="0.8" />
<line x1="348.5" y1="289" x2="348.5" y2="380" stroke="#ececec" stroke-width="0.8" />
<line x1="221" y1="370.4" x2="353" y2="370.4" stroke="#f0f0f0" stroke-width="0.7" />
<line x1="221" y1="357.51" x2="353" y2="357.51" stroke="#f0f0f0" stroke-width="0.7" />
<line x1="221" y1="344.62" x2="353" y2="344.62" stroke="#f0f0f0" stroke-width="0.7" />
<line x1="221" y1="331.73" x2="353" y2="331.73" stroke="#f0f0f0" stroke-width="0.7" />
<line x1="221" y1="318.84" x2="353" y2="318.84" stroke="#f0f0f0" stroke-width="0.7" />
<line x1="221" y1="305.95" x2="353" y2="305.95" stroke="#f0f0f0" stroke-width="0.7" />
<line x1="221" y1="293.06" x2="353" y2="293.06" stroke="#f0f0f0" stroke-width="0.7" />
<line x1="220.6" y1="370.4" x2="220.6" y2="293.06" stroke="#444" stroke-width="0.9" />
<line x1="220.6" y1="370.4" x2="217.8" y2="370.4" stroke="#444" stroke-width="0.7" />
<text x="212.5" y="370.4" font-size="4.0" text-anchor="middle" font-weight="normal" fill="#1a1a1a" stroke="#1a1a1a" stroke-width="0.1" transform="rotate(-90 212.5 370.4)" dy="1.45">0.0</text>
<line x1="220.6" y1="357.51" x2="217.8" y2="357.51" stroke="#444" stroke-width="0.7" />
<text x="212.5" y="357.51" font-size="4.0" text-anchor="middle" font-weight="normal" fill="#1a1a1a" stroke="#1a1a1a" stroke-width="0.1" transform="rotate(-90 212.5 357.51)" dy="1.45">0.1</text>
<line x1="220.6" y1="344.62" x2="217.8" y2="344.62" stroke="#444" stroke-width="0.7" />
<text x="212.5" y="344.62" font-size="4.0" text-anchor="middle" font-weight="normal" fill="#1a1a1a" stroke="#1a1a1a" stroke-width="0.1" transform="rotate(-90 212.5 344.62)" dy="1.45">0.2</text>
<line x1="220.6" y1="331.73" x2="217.8" y2="331.73" stroke="#444" stroke-width="0.7" />
<text x="212.5" y="331.73" font-size="4.0" text-anchor="middle" font-weight="normal" fill="#1a1a1a" stroke="#1a1a1a" stroke-width="0.1" transform="rotate(-90 212.5 331.73)" dy="1.45">0.3</text>
<line x1="220.6" y1="318.84" x2="217.8" y2="318.84" stroke="#444" stroke-width="0.7" />
<text x="212.5" y="318.84" font-size="4.0" text-anchor="middle" font-weight="normal" fill="#1a1a1a" stroke="#1a1a1a" stroke-width="0.1" transform="rotate(-90 212.5 318.84)" dy="1.45">0.4</text>
<line x1="220.6" y1="305.95" x2="217.8" y2="305.95" stroke="#444" stroke-width="0.7" />
<text x="212.5" y="305.95" font-size="4.0" text-anchor="middle" font-weight="normal" fill="#1a1a1a" stroke="#1a1a1a" stroke-width="0.1" transform="rotate(-90 212.5 305.95)" dy="1.45">0.5</text>
<line x1="220.6" y1="293.06" x2="217.8" y2="293.06" stroke="#444" stroke-width="0.7" />
<text x="212.5" y="293.06" font-size="4.0" text-anchor="middle" font-weight="normal" fill="#1a1a1a" stroke="#1a1a1a" stroke-width="0.1" transform="rotate(-90 212.5 293.06)" dy="1.45">0.6</text>
<line x1="225.3" y1="380.5" x2="348.5" y2="380.5" stroke="#444" stroke-width="0.9" />
<line x1="225.3" y1="380.5" x2="225.3" y2="383.2" stroke="#444" stroke-width="0.7" />
<text x="225.3" y="389.45" font-size="4.0" text-anchor="middle" font-weight="normal" fill="#1a1a1a" stroke="#1a1a1a" stroke-width="0.1" >0.0</text>
<line x1="249.94" y1="380.5" x2="249.94" y2="383.2" stroke="#444" stroke-width="0.7" />
<text x="249.94" y="389.45" font-size="4.0" text-anchor="middle" font-weight="normal" fill="#1a1a1a" stroke="#1a1a1a" stroke-width="0.1" >0.2</text>
<line x1="274.58" y1="380.5" x2="274.58" y2="383.2" stroke="#444" stroke-width="0.7" />
<text x="274.58" y="389.45" font-size="4.0" text-anchor="middle" font-weight="normal" fill="#1a1a1a" stroke="#1a1a1a" stroke-width="0.1" >0.4</text>
<line x1="299.22" y1="380.5" x2="299.22" y2="383.2" stroke="#444" stroke-width="0.7" />
<text x="299.22" y="389.45" font-size="4.0" text-anchor="middle" font-weight="normal" fill="#1a1a1a" stroke="#1a1a1a" stroke-width="0.1" >0.6</text>
<line x1="323.86" y1="380.5" x2="323.86" y2="383.2" stroke="#444" stroke-width="0.7" />
<text x="323.86" y="389.45" font-size="4.0" text-anchor="middle" font-weight="normal" fill="#1a1a1a" stroke="#1a1a1a" stroke-width="0.1" >0.8</text>
<line x1="348.5" y1="380.5" x2="348.5" y2="383.2" stroke="#444" stroke-width="0.7" />
<text x="348.5" y="389.45" font-size="4.0" text-anchor="middle" font-weight="normal" fill="#1a1a1a" stroke="#1a1a1a" stroke-width="0.1" >1.0</text>
<text x="287" y="398.6" font-size="4.6" text-anchor="middle" font-weight="normal" fill="#1a1a1a" stroke="#1a1a1a" stroke-width="0.16" >Threshold probability</text>
<text x="201.6" y="330.4" font-size="4.1" text-anchor="middle" font-weight="normal" fill="#1a1a1a" stroke="#1a1a1a" stroke-width="0.1" transform="rotate(-90 201.6 330.4)" dy="1.5">Net Benefit</text>
<clipPath id="fclip"><rect x="221" y="285" width="133" height="95.6"/></clipPath>
<line x1="225.3" y1="370.4" x2="348.5" y2="370.4" stroke="#707078" stroke-width="1.0" />
<path d="M225.3 293.06 L226.53 293.58 L227.76 294.11 L229 294.65 L230.23 295.21 L231.46 295.77 L232.69 296.35 L233.92 296.94 L235.16 297.54 L236.39 298.16 L237.62 298.79 L238.85 299.43 L240.08 300.09 L241.32 300.76 L242.55 301.45 L243.78 302.16 L245.01 302.88 L246.24 303.62 L247.48 304.38 L248.71 305.15 L249.94 305.95 L251.17 306.77 L252.4 307.6 L253.64 308.46 L254.87 309.34 L256.1 310.25 L257.33 311.18 L258.56 312.13 L259.8 313.11 L261.03 314.12 L262.26 315.16 L263.49 316.22 L264.72 317.32 L265.96 318.46 L267.19 319.62 L268.42 320.82 L269.65 322.06 L270.88 323.34 L272.12 324.66 L273.35 326.02 L274.58 327.43 L275.81 328.89 L277.04 330.4 L278.28 331.96 L279.51 333.57 L280.74 335.25 L281.97 336.98 L283.2 338.78 L284.44 340.65 L285.67 342.6 L286.9 344.62 L288.13 346.72 L289.36 348.92 L290.6 351.2 L291.83 353.59 L293.06 356.08 L294.29 358.68 L295.52 361.41 L296.76 364.26 L297.99 367.26 L299.22 370.4 L300.45 373.71 L301.68 377.18 L302.92 380.85" stroke="#c4c4c4" stroke-width="0.8" fill="none" clip-path="url(#fclip)"/>
<path d="M225.3 293 L249.3 304.7 L249.3 304.7 C251.05 305.38 256.42 307.28 259.8 308.8 C263.18 310.32 266.32 311.98 269.6 313.8 C272.88 315.62 276.2 317.4 279.5 319.7 C282.8 322 286.43 325.13 289.4 327.6 C292.37 330.07 295.32 332.52 297.3 334.5 C299.28 336.48 300.15 337.85 301.3 339.5 C302.45 341.15 303.33 342.9 304.2 344.4 C305.07 345.9 305.6 346.73 306.5 348.5 C307.4 350.27 309.08 353.92 309.6 355 L312.6 356.6  L312.6 356.6 C314.42 357.23 320.37 358.78 323.5 360.4 C326.63 362.02 329.43 364.32 331.4 366.3 C333.37 368.28 333.98 370.05 335.3 372.3 C336.62 374.55 338.63 378.55 339.3 379.8 L340.9 370.2" stroke="#47488c" stroke-width="1.3" fill="none" stroke-linejoin="round"/>
<rect x="311.5" y="282" width="40.7" height="18.6" fill="#fff" stroke="#888" stroke-width="0.7"/>
<line x1="315.3" y1="287.1" x2="324.4" y2="287.1" stroke="#47488c" stroke-width="1.1" />
<line x1="315.3" y1="291.5" x2="324.4" y2="291.5" stroke="#c4c4c4" stroke-width="0.8" />
<line x1="315.3" y1="296.3" x2="324.4" y2="296.3" stroke="#707078" stroke-width="0.9" />
<text x="328.2" y="288.6" font-size="4.6" text-anchor="start" font-weight="normal" fill="#1a1a1a" stroke="#1a1a1a" stroke-width="0.16" >Nomogram</text>
<text x="328.2" y="293.4" font-size="4.6" text-anchor="start" font-weight="normal" fill="#1a1a1a" stroke="#1a1a1a" stroke-width="0.16" >All</text>
<text x="328.2" y="298.2" font-size="4.6" text-anchor="start" font-weight="normal" fill="#1a1a1a" stroke="#1a1a1a" stroke-width="0.16" >None</text>
</svg>
</body></html>
